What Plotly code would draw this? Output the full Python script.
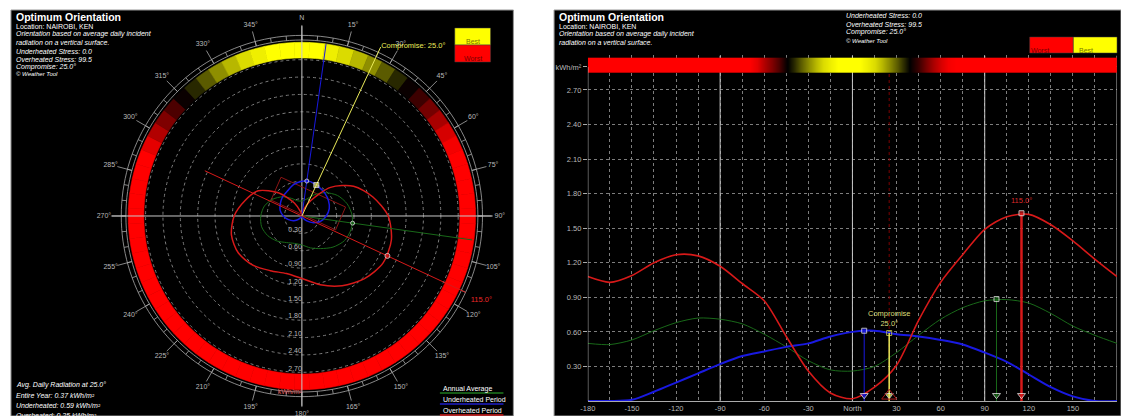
import plotly.graph_objects as go

W, H = 1121, 416
FONT = "Liberation Sans, Arial, sans-serif"

# ---------------- data ----------------
angles = list(range(-180, 181, 15))  # orientation, degrees from North
overheated = [1.08, 1.03, 1.09, 1.20, 1.27, 1.26, 1.17, 1.02, 0.87, 0.56, 0.26, 0.07, 0.02,
              0.12, 0.31, 0.70, 1.03, 1.27, 1.49, 1.60, 1.62, 1.53, 1.39, 1.23, 1.08]
annual = [0.50, 0.49, 0.53, 0.61, 0.68, 0.72, 0.71, 0.67, 0.58, 0.47, 0.35, 0.27, 0.26,
          0.30, 0.42, 0.57, 0.71, 0.81, 0.87, 0.88, 0.85, 0.76, 0.65, 0.57, 0.50]
underheated = [0.0, 0.0, 0.01, 0.08, 0.16, 0.24, 0.32, 0.39, 0.43, 0.47, 0.50, 0.56, 0.60,
               0.61, 0.58, 0.56, 0.53, 0.49, 0.42, 0.34, 0.23, 0.12, 0.04, 0.0, 0.0]

# worst (0) -> best (1) rating by orientation
band_angles = list(range(-180, 180, 5))
band_score = ([0.0] * 23 +
              [0.05, 0.15, 0.25, 0.35, 0.48, 0.58, 0.68, 0.78, 0.86, 0.93, 0.97, 1.0, 1.0, 1.0,
               1.0, 0.97, 0.93, 0.86, 0.78, 0.68, 0.58, 0.48, 0.38, 0.27, 0.17, 0.08, 0.02] +
              [0.0] * 22)

opt_over = (115.0, 1.63)
opt_annual = (98.0, 0.885)
opt_under = (8.0, 0.61)
compromise = (25.0, 0.59)

# overheated-period box drawn on the polar chart (theta, r)
box_theta = [331.7, 78.4, 112.4, 297.3, 331.7]
box_r = [0.76, 0.77, 0.63, 0.60, 0.76]

radial_ticks = [0.3, 0.6, 0.9, 1.2, 1.5, 1.8, 2.1, 2.4, 2.7]
radial_labels = ["0.30", "0.60", "0.90", "1.20", "1.50", "1.80", "2.10", "2.40", "2.70"]
compass_major = list(range(0, 360, 15))
compass_labels = ["N"] + [f"{a}°" for a in range(15, 360, 15)]
compass_minor = list(range(0, 360, 5))
x_grid = list(range(-180, 181, 15))
x_labels = {-180: "-180", -150: "-150", -120: "-120", -90: "-90", -60: "-60", -30: "-30",
            0: "North", 30: "30", 60: "60", 90: "90", 120: "120", 150: "150", 180: "180"}

RED = "rgb(215,25,25)"
GREEN = "rgb(25,105,25)"
BLUE = "rgb(25,25,225)"
YEL = "rgb(235,235,90)"
GRID = "rgb(125,125,125)"
LBL = "rgb(185,185,185)"


def band_color(s):
    if s < 0.5:
        k = 1 - 2 * s
        return f"rgb({int(255 * k)},0,0)"
    k = 2 * s - 1
    return f"rgb({int(255 * k)},{int(255 * k)},0)"


band_colors = [band_color(s) for s in band_score]


def px(x):
    return x / W


def py(y):
    return 1 - y / H


fig = go.Figure()

# ---------------- polar chart ----------------
fig.add_trace(go.Barpolar(theta=band_angles, r=[0.27] * len(band_angles), base=2.73, width=5,
                          marker=dict(color=band_colors, line=dict(color=band_colors, width=0.6)),
                          subplot="polar", hoverinfo="skip"))
circ = list(range(0, 361, 2))
for rr in (3.04, 3.12):
    fig.add_trace(go.Scatterpolar(theta=circ, r=[rr] * len(circ), mode="lines",
                                  line=dict(color="rgb(170,170,170)", width=0.8),
                                  subplot="polar", hoverinfo="skip"))
mt, mr = [], []
for a in compass_minor:
    mt += [a, a, None]
    mr += [3.04, 3.12, None]
fig.add_trace(go.Scatterpolar(theta=mt, r=mr, mode="lines", line=dict(color="rgb(170,170,170)", width=0.8),
                              subplot="polar", hoverinfo="skip"))
jt, jr = [], []
for a in compass_major:
    jt += [a, a, None]
    jr += [3.04, 3.3, None]
fig.add_trace(go.Scatterpolar(theta=jt, r=jr, mode="lines", line=dict(color="rgb(170,170,170)", width=0.8),
                              subplot="polar", hoverinfo="skip", cliponaxis=False))
for a in (0, 90):
    fig.add_trace(go.Scatterpolar(theta=[a, a + 180], r=[3.28, 3.28], mode="lines",
                                  line=dict(color="rgb(200,200,200)", width=1),
                                  subplot="polar", hoverinfo="skip"))
fig.add_trace(go.Scatterpolar(theta=compass_major, r=[3.42] * len(compass_major), mode="text",
                              text=compass_labels, textfont=dict(size=7, color=LBL, family=FONT),
                              cliponaxis=False, subplot="polar", hoverinfo="skip"))
fig.add_trace(go.Scatterpolar(theta=[180] * len(radial_ticks), r=radial_ticks, mode="text",
                              text=radial_labels, textposition="top left",
                              textfont=dict(size=7, color=LBL, family=FONT),
                              subplot="polar", hoverinfo="skip"))
fig.add_trace(go.Scatterpolar(theta=[180], r=[3.1], mode="text", text=["kWh/m²"], textposition="top left",
                              textfont=dict(size=7, color="rgb(225,90,90)", family=FONT),
                              subplot="polar", hoverinfo="skip"))
fig.add_trace(go.Scatterpolar(theta=box_theta, r=box_r, mode="lines", line=dict(color="rgb(140,20,20)", width=1),
                              subplot="polar", hoverinfo="skip"))
for vals, col, w in ((annual, GREEN, 1), (underheated, BLUE, 1.5), (overheated, RED, 1.5)):
    fig.add_trace(go.Scatterpolar(theta=angles, r=vals, mode="lines",
                                  line=dict(color=col, width=w, shape="spline", smoothing=0.8),
                                  subplot="polar", hoverinfo="skip"))
fig.add_trace(go.Scatterpolar(theta=[opt_annual[0], opt_annual[0]], r=[0, 2.97], mode="lines",
                              line=dict(color=GREEN, width=1), subplot="polar", hoverinfo="skip"))
fig.add_trace(go.Scatterpolar(theta=[opt_under[0], opt_under[0]], r=[0, 3.0], mode="lines",
                              line=dict(color=BLUE, width=1), subplot="polar", hoverinfo="skip"))
fig.add_trace(go.Scatterpolar(theta=[opt_over[0] + 180, 0, opt_over[0]], r=[1.85, 0, 3.12], mode="lines",
                              line=dict(color=RED, width=1), subplot="polar", hoverinfo="skip"))
fig.add_trace(go.Scatterpolar(theta=[compromise[0], compromise[0]], r=[0, 3.22], mode="lines",
                              line=dict(color=YEL, width=1), subplot="polar", hoverinfo="skip",
                              cliponaxis=False))
fig.add_trace(go.Scatterpolar(theta=[opt_annual[0], opt_under[0], opt_over[0], compromise[0]],
                              r=[opt_annual[1], opt_under[1], opt_over[1], compromise[1]], mode="markers",
                              marker=dict(color=[GREEN, BLUE, RED, YEL], size=[4, 4, 5, 5],
                                          symbol=["circle", "circle", "circle", "square"]),
                              subplot="polar", hoverinfo="skip"))
fig.add_trace(go.Scatterpolar(theta=[compromise[0]], r=[3.24], mode="text",
                              text=[f"Compromise: {compromise[0]:.1f}°"], textposition="middle right",
                              textfont=dict(size=7.5, color=YEL, family=FONT), cliponaxis=False,
                              subplot="polar", hoverinfo="skip"))
fig.add_trace(go.Scatterpolar(theta=[opt_over[0]], r=[3.42], mode="text",
                              text=[f"{opt_over[0]:.1f}°"],
                              textfont=dict(size=7.5, color="rgb(235,40,40)", family=FONT), cliponaxis=False,
                              subplot="polar", hoverinfo="skip"))

# ---------------- cartesian chart ----------------
heat_x = band_angles + [180]
heat_z = band_score + [band_score[0]]
fig.add_trace(go.Heatmap(x=heat_x, y=[2.8825, 2.9475], z=[heat_z, heat_z], zmin=0, zmax=1, zsmooth="best",
                         colorscale=[[0, "rgb(255,0,0)"], [0.5, "rgb(0,0,0)"], [1, "rgb(255,255,0)"]],
                         showscale=False, hoverinfo="skip", xaxis="x", yaxis="y"))
fig.add_trace(go.Scatter(x=[compromise[0], compromise[0]], y=[0, 2.85], mode="lines",
                         line=dict(color="rgb(125,0,0)", width=1, dash="dot"), hoverinfo="skip"))
for vals, col, w in ((annual, GREEN, 1), (underheated, BLUE, 2), (overheated, RED, 1.6)):
    fig.add_trace(go.Scatter(x=angles, y=vals, mode="lines",
                             line=dict(color=col, width=w, shape="spline", smoothing=0.8), hoverinfo="skip"))
for (a, v), col, w in ((opt_annual, GREEN, 1), (opt_under, BLUE, 1), (opt_over, RED, 2.5), (compromise, YEL, 1.5)):
    fig.add_trace(go.Scatter(x=[a, a, a], y=[v, 0.05, 0], mode="lines+markers",
                             line=dict(color=col, width=w),
                             marker=dict(color=col, size=[5, 7, 0],
                                         symbol=["square-open" if col == YEL else "square", "triangle-down", "circle"]),
                             hoverinfo="skip"))
fig.add_trace(go.Scatter(x=[compromise[0]], y=[0.045], mode="markers",
                         marker=dict(symbol="triangle-up-open", size=13, color="rgb(170,25,25)", line=dict(width=1)),
                         hoverinfo="skip"))

shapes = []
for x0, x1 in ((3, 509), (550, 1121)):
    shapes.append(dict(type="rect", xref="paper", yref="paper", x0=px(x0), x1=px(x1), y0=0, y1=py(10),
                       fillcolor="black", line=dict(color="rgb(150,150,150)", width=1), layer="below"))
for xv in (-90, 0, 90, 180):
    shapes.append(dict(type="line", xref="x", yref="y", x0=xv, x1=xv, y0=0, y1=3.0,
                       line=dict(color="rgb(200,200,200)", width=1), layer="between"))
shapes.append(dict(type="line", xref="x", yref="y", x0=-180, x1=-180, y0=0, y1=2.9,
                   line=dict(color="rgb(200,200,200)", width=1), layer="above"))
for yy, col in ((393, "rgb(30,120,30)"), (404, "rgb(30,30,200)"), (415, "rgb(210,30,30)")):
    shapes.append(dict(type="line", xref="paper", yref="paper", x0=px(435), x1=px(499), y0=py(yy), y1=py(yy),
                       line=dict(color=col, width=1.5)))
boxes = [((450, 486, 28, 45), "rgb(255,255,0)", "Best", "rgb(120,120,0)"),
         ((450, 486, 45, 62), "rgb(255,0,0)", "Worst", "rgb(120,0,0)"),
         ((1029, 1073, 37, 53), "rgb(255,0,0)", "Worst", "rgb(120,0,0)"),
         ((1073, 1117, 37, 53), "rgb(255,255,0)", "Best", "rgb(120,120,0)")]
annotations = []
for (x0, x1, y0, y1), fc, txt_, tc in boxes:
    shapes.append(dict(type="rect", xref="paper", yref="paper", x0=px(x0), x1=px(x1), y0=py(y1), y1=py(y0),
                       fillcolor=fc, line=dict(color="rgb(60,60,60)", width=0.5)))
    annotations.append(dict(xref="paper", yref="paper", x=px((x0 + x1) / 2), y=py((y0 + y1) / 2), text=txt_,
                            showarrow=False, font=dict(size=7, color=tc, family=FONT)))


def txt(x, y, s, size=7, color="white", anchor="left"):
    annotations.append(dict(xref="paper", yref="paper", x=px(x), y=py(y), text=s, showarrow=False,
                            xanchor=anchor, yanchor="middle", font=dict(size=size, color=color, family=FONT)))


for x0 in (6, 553):
    txt(x0, 17, "<b>Optimum Orientation</b>", size=10.5)
    txt(x0, 26, "Location: NAIROBI, KEN")
    txt(x0, 34.5, "<i>Orientation based on average daily incident</i>")
    txt(x0, 42.5, "<i>radiation on a vertical surface.</i>")
txt(6, 51, "<i>Underheated Stress: 0.0</i>")
txt(6, 59, "<i>Overheated Stress: 99.5</i>")
txt(6, 67, "<i>Compromise: 25.0°</i>")
txt(6, 74.5, "<i>© Weather Tool</i>", size=6)
txt(842, 16, "<i>Underheated Stress: 0.0</i>")
txt(842, 24, "<i>Overheated Stress: 99.5</i>")
txt(842, 32, "<i>Compromise: 25.0°</i>")
txt(842, 40.5, "<i>© Weather Tool</i>", size=6)
txt(6, 385, "<i>Avg. Daily Radiation at 25.0°</i>")
txt(6, 395, "<i>Entire Year: 0.37 kWh/m²</i>")
txt(6, 405, "<i>Underheated: 0.59 kWh/m²</i>")
txt(6, 415, "<i>Overheated: 0.25 kWh/m²</i>")
txt(436, 388.5, "Annual Average")
txt(436, 399.5, "Underheated Period")
txt(436, 410.5, "Overheated Period")
annotations.append(dict(xref="x", yref="y", x=compromise[0], y=0.72, text=f"Compromise<br>{compromise[0]:.1f}°",
                        showarrow=False, font=dict(size=7.5, color="rgb(220,220,120)", family=FONT)))
annotations.append(dict(xref="x", yref="y", x=opt_over[0], y=1.74, text=f"{opt_over[0]:.1f}°",
                        showarrow=False, font=dict(size=7.5, color="rgb(220,40,40)", family=FONT)))

fig.update_layout(
    width=W, height=H, margin=dict(l=0, r=0, t=0, b=0),
    paper_bgcolor="white", plot_bgcolor="black", showlegend=False,
    font=dict(family=FONT, color=LBL, size=7),
    polar=dict(domain=dict(x=[px(96), px(496)], y=[0, py(16)]), bgcolor="black",
               radialaxis=dict(range=[0, 3.43], tickvals=radial_ticks, showticklabels=False, ticks="",
                               showline=False, showgrid=True, gridcolor=GRID, griddash="dot", gridwidth=1),
               angularaxis=dict(rotation=90, direction="clockwise", showgrid=False, showticklabels=False,
                                ticks="", showline=False)),
    xaxis=dict(domain=[px(584), px(1117)], range=[-180, 180], tickvals=x_grid,
               ticktext=[x_labels.get(v, "") for v in x_grid], showgrid=True, gridcolor=GRID, griddash="dot",
               gridwidth=1, zeroline=False, showline=True, linecolor="rgb(170,170,170)", ticks="",
               tickfont=dict(size=7.5, color=LBL, family=FONT)),
    yaxis=dict(domain=[py(401), py(55.4)], range=[0, 3.0], tickvals=radial_ticks + [2.9],
               ticktext=radial_labels + ["kWh/m²"], showgrid=True, gridcolor=GRID, griddash="dot",
               gridwidth=1, zeroline=False, showline=False, ticks="outside", ticklen=4,
               tickcolor="rgb(170,170,170)", tickfont=dict(size=7.5, color=LBL, family=FONT)),
    shapes=shapes, annotations=annotations,
)

fig.write_html("out.html", config={"displayModeBar": False},
               post_script="document.body.style.margin='0';document.body.style.padding='0';"
                           "document.body.style.overflow='hidden';")
